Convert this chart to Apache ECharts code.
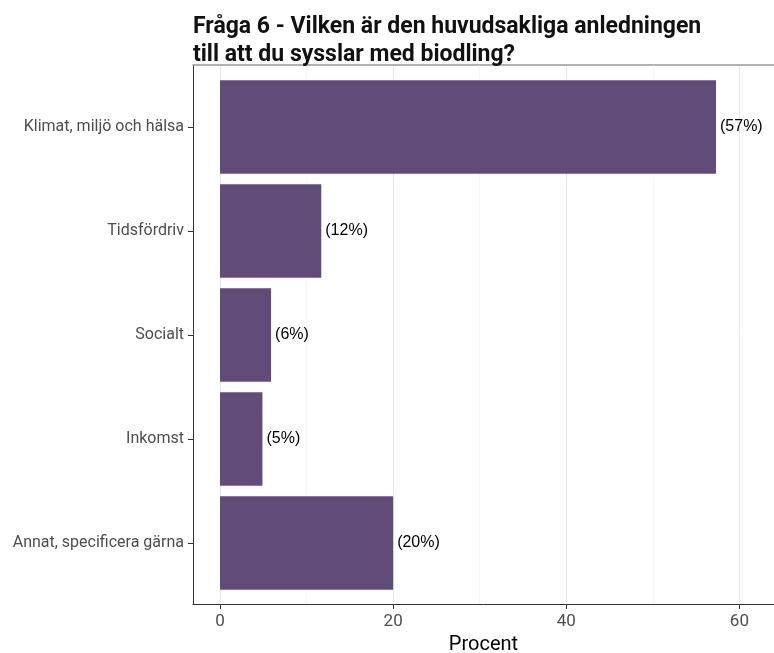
<!DOCTYPE html>
<html>
<head>
<meta charset="utf-8">
<script src="https://cdn.jsdelivr.net/npm/echarts@6/dist/echarts.min.js"></script>
<style>
  html, body { margin: 0; padding: 0; background: #fff; }
  #chart { width: 774px; height: 653px; }
</style>
</head>
<body>
<div id="chart"></div>
<script>
const categories = ["Klimat, miljö och hälsa", "Tidsfördriv", "Socialt", "Inkomst", "Annat, specificera gärna"];
const percentValues = [57.3, 11.7, 5.9, 4.9, 20.0];
const minorGridValues = [10, 30, 50];

const xMin = -3.12;
const xMax = 64;
const barColor = "#614b79";
const labelFont = "'Roboto', sans-serif";

const chart = echarts.init(document.getElementById("chart"), null, { renderer: "canvas" });

const option = {
    animation: false,
    backgroundColor: "#fff",
    title: {
        text: "Fråga 6 - Vilken är den huvudsakliga anledningen\ntill att du sysslar med biodling?",
        left: 188,
        top: 8,
        textStyle: {
            fontFamily: labelFont,
            fontWeight: "bold",
            fontSize: 23,
            lineHeight: 28,
            color: "#111"
        }
    },
    grid: [
        { left: 193, right: 0, top: 65, height: 539, outerBoundsMode: "none", containLabel: false },
        { left: 193, right: 0, top: 75, height: 520, outerBoundsMode: "none", containLabel: false }
    ],
    xAxis: [
        {
            gridIndex: 0,
            type: "value",
            min: xMin,
            max: xMax,
            splitNumber: 3,
            name: "Procent",
            nameLocation: "middle",
            nameGap: 31,
            nameTextStyle: { fontFamily: labelFont, fontSize: 20, color: "#000" },
            axisLine: { show: true, onZero: false, lineStyle: { color: "#333", width: 1 } },
            axisTick: { show: true, length: 5, lineStyle: { color: "#333" } },
            axisLabel: {
                showMinLabel: false,
                showMaxLabel: false,
                margin: 9,
                fontFamily: labelFont,
                fontSize: 17,
                color: "#4d4d4d"
            },
            splitLine: { show: true, lineStyle: { color: "#e6e6e6", width: 1 } }
        },
        {
            gridIndex: 1,
            type: "value",
            min: xMin,
            max: xMax,
            show: false
        },
        {
            gridIndex: 0,
            type: "value",
            position: "top",
            min: xMin,
            max: xMax,
            axisLine: { show: true, onZero: false, lineStyle: { color: "#999", width: 1.5 } },
            axisTick: { show: false },
            axisLabel: { show: false },
            splitLine: { show: false }
        }
    ],
    yAxis: [
        {
            gridIndex: 0,
            type: "value",
            min: 0,
            max: 1,
            axisLine: { show: true, onZero: false, lineStyle: { color: "#333", width: 1 } },
            axisTick: { show: false },
            axisLabel: { show: false },
            splitLine: { show: false }
        },
        {
            gridIndex: 1,
            type: "category",
            data: categories,
            inverse: true,
            axisLine: { show: false, onZero: false },
            axisTick: { show: true, alignWithLabel: true, length: 5, lineStyle: { color: "#333" } },
            axisLabel: {
                margin: 9,
                fontFamily: labelFont,
                fontSize: 16,
                color: "#4d4d4d"
            },
            splitLine: { show: false }
        }
    ],
    series: [
        {
            type: "line",
            xAxisIndex: 0,
            yAxisIndex: 0,
            data: [],
            z: 1,
            silent: true,
            markLine: {
                z: 1,
                symbol: "none",
                silent: true,
                label: { show: false },
                lineStyle: { color: "#f0f0f0", width: 0.6, type: "solid" },
                data: minorGridValues.map(v => ({ xAxis: v }))
            }
        },
        {
            type: "bar",
            xAxisIndex: 1,
            yAxisIndex: 1,
            data: percentValues,
            barCategoryGap: "10%",
            z: 3,
            itemStyle: { color: barColor },
            label: {
                show: true,
                position: "right",
                distance: 4,
                fontFamily: "'Liberation Sans', Arial, sans-serif",
                fontSize: 16,
                color: "#000",
                formatter: p => "(" + Math.round(p.value) + "%)"
            }
        }
    ]
};

chart.setOption(option);
</script>
</body>
</html>
